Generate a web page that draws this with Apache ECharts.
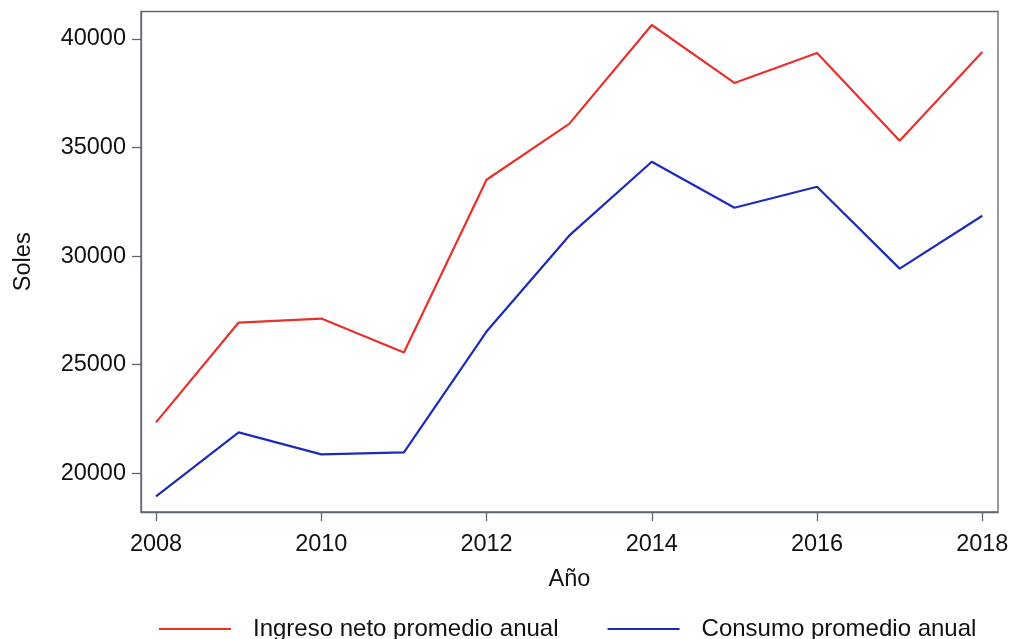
<!DOCTYPE html>
<html><head><meta charset="utf-8">
<script src="https://cdn.jsdelivr.net/npm/echarts@6/dist/echarts.min.js"></script>
<style>html,body{margin:0;padding:0;background:#fff}#c{width:1013px;height:639px}</style>
</head><body><div id="c"></div>
<script>
const years = [2008,2009,2010,2011,2012,2013,2014,2015,2016,2017,2018];
const ingreso = [22345,26943,27126,25563,33517,36092,40644,37977,39356,35310,39402];
const consumo = [18943,21885,20874,20966,26529,30943,34345,32230,33195,29425,31862];
const xTicks = [2008,2010,2012,2014,2016,2018];
const yTicks = [20000,25000,30000,35000,40000];
const seriesNames = ['Ingreso neto promedio anual','Consumo promedio anual'];

const font = 'Liberation Sans, Arial, sans-serif';
const frame = '#5f6670';
const chart = echarts.init(document.getElementById('c'));
chart.setOption({
  animation:false,
  backgroundColor:'#fff',
  grid:{left:141, top:11.5, right:15, bottom:127, show:true, borderColor:frame, borderWidth:1.3, containLabel:false},
  legend:{
    left:154, top:612, itemWidth:72, itemHeight:2, itemGap:49,
    icon:'rect',
    textStyle:{fontFamily:font, fontSize:24, color:'#111', padding:[0,0,0,17]},
    data:seriesNames
  },
  xAxis:{
    type:'value', min:2007.818, max:2018.19,
    name:'Año', nameLocation:'middle', nameGap:56,
    nameTextStyle:{fontFamily:font, fontSize:23.5, color:'#111'},
    axisLine:{show:true, lineStyle:{color:frame, width:1.3}},
    axisTick:{show:true, length:9, customValues:xTicks, lineStyle:{color:frame, width:1.3}},
    axisLabel:{customValues:xTicks, margin:21, fontFamily:font, fontSize:23.5, color:'#111', formatter:v=>String(v)},
    splitLine:{show:false}
  },
  yAxis:{
    type:'value', min:18218, max:41266,
    name:'Soles', nameLocation:'middle', nameGap:105, nameRotate:90,
    nameTextStyle:{fontFamily:font, fontSize:23.5, color:'#111'},
    axisLine:{show:true, lineStyle:{color:frame, width:1.3}},
    axisTick:{show:true, length:9, customValues:yTicks, lineStyle:{color:frame, width:1.3}},
    axisLabel:{customValues:yTicks, margin:15, fontFamily:font, fontSize:23.5, color:'#111', formatter:v=>String(v)},
    splitLine:{show:false}
  },
  series:[
    {name:seriesNames[0], type:'line', symbol:'none', data:years.map((y,i)=>[y,ingreso[i]]), lineStyle:{color:'#e8302c', width:2.2}, itemStyle:{color:'#e8302c'}},
    {name:seriesNames[1], type:'line', symbol:'none', data:years.map((y,i)=>[y,consumo[i]]), lineStyle:{color:'#1a2cb8', width:2.2}, itemStyle:{color:'#1a2cb8'}}
  ]
});
</script></body></html>
